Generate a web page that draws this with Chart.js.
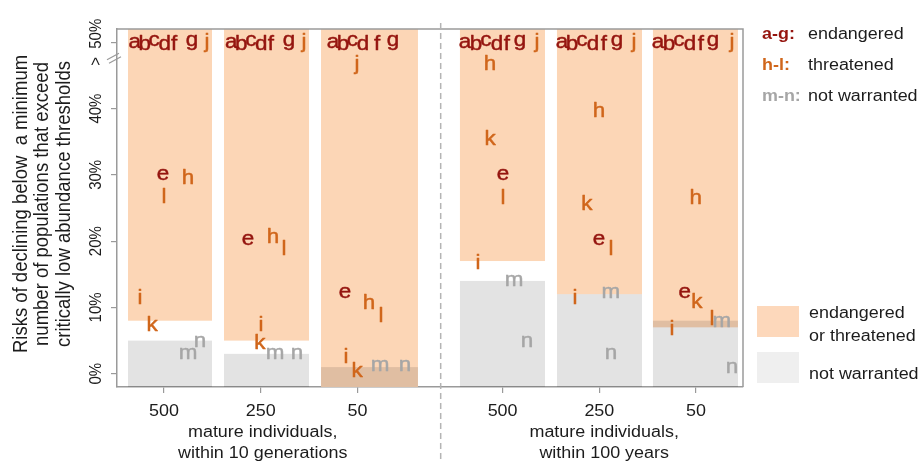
<!DOCTYPE html>
<html>
<head>
<meta charset="utf-8">
<script src="https://cdn.jsdelivr.net/npm/chart.js@4.4.1/dist/chart.umd.min.js"></script>
<style>
  html, body { margin: 0; padding: 0; background: #fff; }
  #wrap { width: 923px; height: 463px; position: relative; }
</style>
</head>
<body>
<div id="wrap"><canvas id="myChart"></canvas></div>
<script>
// population size per panel and its place on the x axis
let sizeLabels = ['500', '250', '50', '500', '250', '50'];
let sizePos = [1, 2, 3, 4.5, 5.5, 6.5];
let groupTitles = [['mature individuals,', 'within 10 generations'], ['mature individuals,', 'within 100 years']];
let groupPos = [2.02, 5.55];
let groupSplit = 3.86;

// panel extents (x) and shaded risk ranges (%)
let panelLeft = [0.628, 1.620, 2.623, 4.059, 5.062, 6.054];
let panelRight = [1.496, 2.499, 3.625, 4.938, 5.941, 6.933];
let threatFrom = [8, 5, null, 17, 12, 7];   // endangered or threatened: from here to the top
let warrantTo = [5, 3, 1, 14, 12, 8];       // not warranted: from the bottom up to here

let yTicks = [0, 10, 20, 30, 40, 50];

// letters a-g (endangered)
let endangered = [
  ['a', 0.697, 50], ['b', 0.801, 50], ['c', 0.897, 50.3], ['d', 1.007, 50], ['f', 1.105, 50], ['g', 1.289, 50], ['e', 0.990, 30.1],
  ['a', 1.696, 50], ['b', 1.799, 50], ['c', 1.897, 50.3], ['d', 2.006, 50], ['f', 2.104, 50], ['g', 2.292, 50], ['e', 1.868, 20.2],
  ['a', 2.747, 50], ['b', 2.850, 50], ['c', 2.948, 50.3], ['d', 3.057, 50], ['f', 3.202, 50], ['g', 3.367, 50], ['e', 2.871, 12.2],
  ['a', 4.111, 50], ['b', 4.225, 50], ['c', 4.328, 50.3], ['d', 4.442, 50], ['f', 4.545, 50], ['g', 4.680, 50], ['e', 4.504, 30.1],
  ['a', 5.114, 50], ['b', 5.217, 50], ['c', 5.320, 50.3], ['d', 5.434, 50], ['f', 5.548, 50], ['g', 5.682, 50], ['e', 5.496, 20.2],
  ['a', 6.106, 50], ['b', 6.220, 50], ['c', 6.323, 50.3], ['d', 6.437, 50], ['f', 6.550, 50], ['g', 6.674, 50], ['e', 6.382, 12.2]
];
// letters h-l (threatened)
let threatened = [
  ['j', 1.444, 50], ['h', 1.248, 29.7], ['l', 1.000, 26.9], ['i', 0.752, 11.7], ['k', 0.876, 7.6],
  ['j', 2.447, 50], ['h', 2.127, 20.8], ['l', 2.240, 19.1], ['i', 2.003, 7.6], ['k', 1.992, 4.8],
  ['j', 2.995, 46.6], ['h', 3.119, 10.9], ['l', 3.243, 8.9], ['i', 2.881, 2.8], ['k', 2.995, 0.6],
  ['j', 4.855, 50], ['h', 4.370, 46.9], ['k', 4.370, 35.7], ['l', 4.504, 26.7], ['i', 4.245, 16.9],
  ['j', 5.858, 50], ['h', 5.496, 39.8], ['k', 5.372, 25.8], ['l', 5.620, 19.0], ['i', 5.248, 11.7],
  ['j', 6.871, 50], ['h', 6.496, 26.7], ['k', 6.509, 11.1], ['l', 6.664, 8.5], ['i', 6.251, 7.0]
];
// letters m-n (not warranted)
let notWarranted = [
  ['m', 1.248, 3.1], ['n', 1.372, 4.9],
  ['m', 2.147, 3.1], ['n', 2.375, 3.1],
  ['m', 3.233, 1.2], ['n', 3.491, 1.2],
  ['m', 4.618, 14.0], ['n', 4.752, 4.9],
  ['m', 5.620, 12.2], ['n', 5.620, 3.0],
  ['m', 6.767, 7.9], ['n', 6.871, 1.0]
];

const FONT = '"Liberation Sans", Arial, Helvetica, sans-serif';
const RED = '#95150f';
const ORANGE = '#d0661b';
const GREY = '#a6a6a6';
const THREAT_FILL = '#fcd6b6';
const WARRANT_FILL = '#e3e3e3';
const AXIS = '#9a9a9a';
const TEXT = '#1c1c1c';
const SX = 1.12;   // glyphs run a bit wide

function toPoints(list) {
  return list.map(p => ({ x: p[1], y: p[2], t: p[0] }));
}

// text drawn a little wider than tall, optionally turned
function wideText(ctx, str, px, py, rot) {
  ctx.save();
  ctx.translate(px, py);
  ctx.scale(SX, 1);
  if (rot) ctx.rotate(rot);
  ctx.fillText(str, 0, 0);
  ctx.restore();
}

// shaded panels behind the letters
const panelPlugin = {
  id: 'panels',
  beforeDatasetsDraw(chart) {
    const { ctx, chartArea: ca, scales: { x, y } } = chart;
    ctx.save();
    ctx.beginPath();
    ctx.rect(ca.left, ca.top, ca.width, ca.height);
    ctx.clip();
    ctx.fillStyle = THREAT_FILL;
    for (let i = 0; i < panelLeft.length; i++) {
      const x0 = x.getPixelForValue(panelLeft[i]);
      const x1 = x.getPixelForValue(panelRight[i]);
      const yb = threatFrom[i] === null ? ca.bottom : y.getPixelForValue(threatFrom[i]);
      ctx.fillRect(x0, ca.top, x1 - x0, yb - ca.top);
    }
    // overlap of both ranges comes out darker
    ctx.globalCompositeOperation = 'multiply';
    ctx.fillStyle = WARRANT_FILL;
    for (let i = 0; i < panelLeft.length; i++) {
      const x0 = x.getPixelForValue(panelLeft[i]);
      const x1 = x.getPixelForValue(panelRight[i]);
      const yt = y.getPixelForValue(warrantTo[i]);
      ctx.fillRect(x0, yt, x1 - x0, ca.bottom - yt);
    }
    ctx.restore();
  }
};

// letters drawn at each point, centred on the glyph
const letterPlugin = {
  id: 'letters',
  afterDatasetsDraw(chart) {
    const ctx = chart.ctx;
    ctx.save();
    ctx.font = '19.5px ' + FONT;
    ctx.textAlign = 'center';
    ctx.textBaseline = 'alphabetic';
    ctx.lineWidth = 0.45;
    ctx.lineJoin = 'round';
    chart.data.datasets.forEach((ds, di) => {
      const meta = chart.getDatasetMeta(di);
      ctx.fillStyle = ds.textColor;
      ctx.strokeStyle = ds.textColor;
      meta.data.forEach((pt, i) => {
        const t = ds.data[i].t;
        const m = ctx.measureText(t);
        const dy = (m.actualBoundingBoxAscent - m.actualBoundingBoxDescent) / 2;
        ctx.save();
        ctx.translate(pt.x, pt.y + dy);
        ctx.scale(1.15, 1);
        ctx.fillText(t, 0, 0);
        ctx.strokeText(t, 0, 0);
        ctx.restore();
      });
    });
    ctx.restore();
  }
};

// frame, axis break, tick labels, titles, divider and the key
const decorPlugin = {
  id: 'decor',
  afterDraw(chart) {
    const { ctx, chartArea: ca, scales: { x, y } } = chart;
    ctx.save();

    // top and right edges of the box
    ctx.strokeStyle = AXIS;
    ctx.lineWidth = 1.5;
    ctx.beginPath();
    ctx.moveTo(ca.left, ca.top);
    ctx.lineTo(ca.right, ca.top);
    ctx.lineTo(ca.right, ca.bottom);
    ctx.stroke();

    // "//" break on the y axis
    const yb = y.getPixelForValue(47.8);
    ctx.lineWidth = 1.2;
    ctx.beginPath();
    ctx.moveTo(ca.left - 10, yb + 3); ctx.lineTo(ca.left + 2, yb - 3.5);
    ctx.moveTo(ca.left - 8, yb + 6.5); ctx.lineTo(ca.left + 4, yb);
    ctx.stroke();

    // dashed divider between the two groups
    const xs = x.getPixelForValue(groupSplit);
    ctx.strokeStyle = '#b4b4b4';
    ctx.lineWidth = 1.5;
    ctx.setLineDash([6, 4]);
    ctx.beginPath();
    ctx.moveTo(xs, 23);
    ctx.lineTo(xs, 460);
    ctx.stroke();
    ctx.setLineDash([]);

    ctx.fillStyle = TEXT;
    ctx.textAlign = 'center';
    ctx.textBaseline = 'middle';

    // y tick labels, turned on their side
    ctx.font = '15px ' + FONT;
    y.ticks.forEach(tk => {
      const py = y.getPixelForValue(tk.value);
      wideText(ctx, tk.value === 50 ? '>  50%' : tk.value + '%', ca.left - 21, py, -Math.PI / 2);
    });

    // y title
    ctx.font = '18.5px ' + FONT;
    const yTitle = ['Risks of declining below  a minimum', 'number of populations that exceed', 'critically low abundance thresholds'];
    const midY = (ca.top + ca.bottom) / 2 - 4;
    yTitle.forEach((line, i) => {
      wideText(ctx, line, 21 + i * 21.5, midY, -Math.PI / 2);
    });

    // x tick labels and group titles
    ctx.font = '16px ' + FONT;
    sizeLabels.forEach((lab, i) => {
      wideText(ctx, lab, x.getPixelForValue(sizePos[i]), ca.bottom + 25);
    });
    groupTitles.forEach((lines, g) => {
      const px = x.getPixelForValue(groupPos[g]);
      lines.forEach((line, j) => wideText(ctx, line, px, ca.bottom + 46 + j * 21));
    });

    // key for the letters
    const kx = ca.right + 19;
    const keys = [['a-g:', RED, 'endangered'], ['h-l:', ORANGE, 'threatened'], ['m-n:', GREY, 'not warranted']];
    ctx.textAlign = 'left';
    keys.forEach((k, i) => {
      const ky = 35 + i * 31;
      ctx.font = 'bold 16px ' + FONT;
      ctx.fillStyle = k[1];
      wideText(ctx, k[0], kx, ky);
      ctx.font = '16px ' + FONT;
      ctx.fillStyle = TEXT;
      wideText(ctx, k[2], kx + 46, ky);
    });

    // key for the shading
    ctx.fillStyle = '#fdd8bb';
    ctx.fillRect(kx - 5, 306, 42, 31);
    ctx.fillStyle = '#efefef';
    ctx.fillRect(kx - 5, 352, 42, 31);
    ctx.fillStyle = TEXT;
    wideText(ctx, 'endangered', kx + 47, 314);
    wideText(ctx, 'or threatened', kx + 47, 337);
    wideText(ctx, 'not warranted', kx + 47, 375);

    ctx.restore();
  }
};

new Chart(document.getElementById('myChart'), {
  type: 'scatter',
  data: {
    datasets: [
      { label: 'endangered', data: toPoints(endangered), textColor: RED, pointRadius: 0 },
      { label: 'threatened', data: toPoints(threatened), textColor: ORANGE, pointRadius: 0 },
      { label: 'not warranted', data: toPoints(notWarranted), textColor: GREY, pointRadius: 0 }
    ]
  },
  options: {
    responsive: true,
    maintainAspectRatio: false,
    animation: false,
    events: [],
    layout: { padding: { top: 29, right: 180, bottom: 0, left: 0 } },
    plugins: {
      legend: { display: false },
      tooltip: { enabled: false }
    },
    scales: {
      x: {
        type: 'linear',
        min: 0.514,
        max: 6.985,
        afterBuildTicks: s => { s.ticks = sizePos.map(v => ({ value: v })); },
        afterFit: s => { s.height = 76; },
        ticks: { display: false },
        grid: { drawOnChartArea: false, drawTicks: true, tickLength: 6, color: AXIS, lineWidth: 1.2 },
        border: { display: true, color: AXIS, width: 1.5 }
      },
      y: {
        type: 'linear',
        min: -2,
        max: 52,
        afterBuildTicks: s => { s.ticks = yTicks.map(v => ({ value: v })); },
        afterFit: s => { s.width = 117; },
        ticks: { display: false },
        grid: { drawOnChartArea: false, drawTicks: true, tickLength: 6, color: AXIS, lineWidth: 1.2 },
        border: { display: true, color: AXIS, width: 1.5 }
      }
    }
  },
  plugins: [panelPlugin, letterPlugin, decorPlugin]
});
</script>
</body>
</html>
